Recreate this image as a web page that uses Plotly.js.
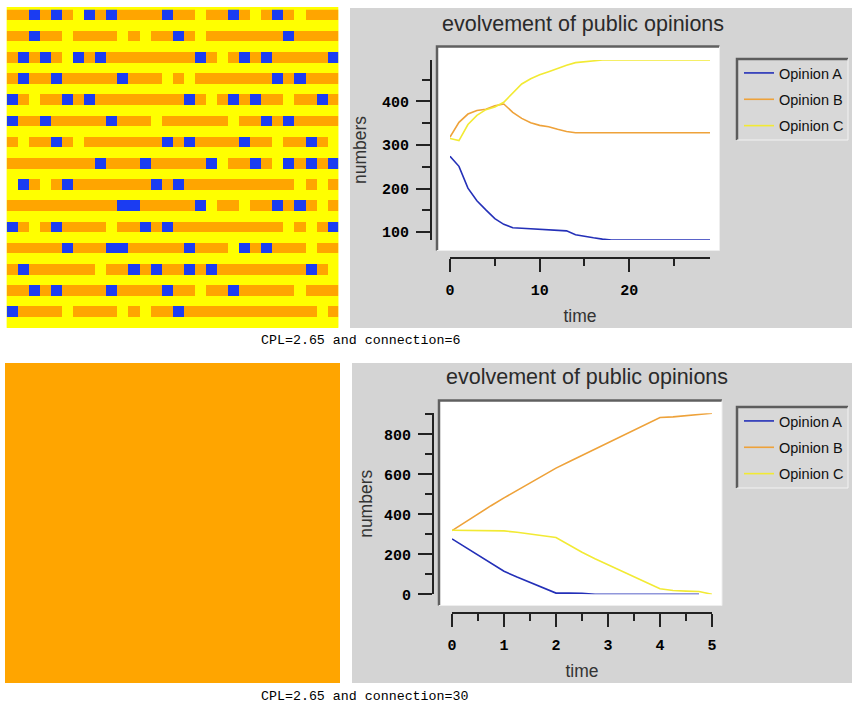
<!DOCTYPE html>
<html><head><meta charset="utf-8">
<script src="https://cdn.plot.ly/plotly-3.0.1.min.js"></script>
<style>html,body{margin:0;padding:0;background:#fff;} #chart{width:852px;height:711px;}</style>
</head><body><div id="chart"></div>
<script>
// ---------------- data ----------------
const seriesNames = ['Opinion A', 'Opinion B', 'Opinion C'];
const chartTitle = 'evolvement of public opinions';
const captionTop = 'CPL=2.65 and connection=6';
const captionBottom = 'CPL=2.65 and connection=30';

// top run (connection = 6)
const timeTop = [0,1,2,3,4,5,6,7,8,9,10,11,12,13,14,15,16,17,18,19,20,21,22,23,24,25,26,27,28,29];
const opinionATop = [274,251,201,172,151,131,118,110,109,108,107,106,105,103,94,90,87,84,82,82,82,82,82,82,82,82,82,82,82,82];
const opinionBTop = [318,352,371,379,382,390,394,375,361,351,345,342,336,331,328,328,328,328,328,328,328,328,328,328,328,328,328,328,328,328];
const opinionCTop = [315,310,347,368,381,387,398,419,440,452,461,468,476,483,489,491,493,495,495,495,495,495,495,495,495,495,495,495,495,495];

// bottom run (connection = 30)
const timeBottom = [0,0.25,0.5,0.75,1,1.25,1.5,1.75,2,2.25,2.5,2.75,3,3.25,3.5,3.75,4,4.25,4.5,4.75,5];
const opinionABottom = [277,236,196,155,115,86,60,33,6,6,5,0,0,0,0,0,0,0,0,0,null];
const opinionBBottom = [318,361,402,443,482,520,558,595,631,663,695,727,758,790,822,853,884,887,893,899,905];
const opinionCBottom = [320,319,318,318,317,310,303,293,284,247,210,178,147,117,88,58,28,19,16,14,0];

// grid states, one string per occupied row: B = Opinion A (blue), O = Opinion B (orange), Y = Opinion C (yellow)
const gridTopBands = [
  'OOBOBOYBOBOOOOBOOYOOBOYOBOYOOO',
  'OOBOOYOOOOYOYOOBOYOOOOOOOBOOOO',
  'OBOBOYBOBOOOOOOOOBOYOBOBOOOOOB',
  'OBOOBOOOOOBOOOYOYOOOOOOOBOBOOO',
  'BOYOOBOBOOOOOOOOBOYOBOBOOYOOBO',
  'BOOBOOOOOBOOOYOOOOOOYOOBOBOOOO',
  'OYOOBOYOOOOOOOBOBOOOOBOOYOOBOY',
  'OOOOOOOOBOOOBOOOOOBYOOBOYBOBOB',
  'YBOYOBOOOOOOOBOBOOOOOOOOOOYOYO',
  'OOOOOOOOOOBBOOOOOBYOOYOOBOBOYO',
  'BOYOBOOOOYOOBOBOOOOOOOOOOYOYOB',
  'OOOOOBOOOBBOOOOOBOOOYBOBOOOYOO',
  'OBOOOOOOYOOBOBOOBOBOOOOOOOOBOY',
  'OOBOBOOOOBOOOOBOOYOOBOOOOOYOOO',
  'BOOOOYOOOOYOYOOBOOOOOOOOOOOOYO'
];
const gridSpacerRow = 'YYYYYYYYYYYYYYYYYYYYYYYYYYYYYY';
const gridBottomState = ['O']; // every cell holds Opinion B

// ---------------- helpers ----------------
const W = 852, H = 711;
const X = px => px / W;
const Y = py => 1 - py / H;
const stateCode = {Y: 0, O: 1, B: 2};
const toZ = rows => rows.map(r => r.split('').map(c => stateCode[c]));
const topRows = [];
gridTopBands.forEach(b => { topRows.push(b); topRows.push(gridSpacerRow); });

const gridScale = [[0,'#ffff00'],[0.333,'#ffff00'],[0.334,'#ffa500'],[0.666,'#ffa500'],[0.667,'#1b3cf2'],[1,'#1b3cf2']];
const lineColors = ['#2430b8', '#eea23a', '#f2ea34'];

const tickFont = {family: 'Liberation Mono, Courier New, monospace', size: 15, color: '#000', weight: 'bold'};
const titleFont = {family: 'Liberation Sans, Arial, sans-serif', size: 17.5, color: '#333'};
const legendFont = {family: 'Liberation Sans, Arial, sans-serif', size: 14.5, color: '#111'};

function axisStyle(extra) {
  return Object.assign({
    showgrid: false, zeroline: false, showline: true, linecolor: '#222', linewidth: 2,
    ticks: 'outside', tickwidth: 2, tickcolor: '#222', tickfont: tickFont,
    fixedrange: true
  }, extra);
}

const minMax = arrs => {
  const v = [].concat(...arrs).filter(d => d !== null);
  return [Math.min(...v), Math.max(...v)];
};

// ---------------- traces ----------------
const traces = [];
[opinionATop, opinionBTop, opinionCTop].forEach((ys, i) => {
  traces.push({type: 'scatter', mode: 'lines', x: timeTop, y: ys, name: seriesNames[i],
    xaxis: 'x', yaxis: 'y', legend: 'legend', legendgroup: 'g' + i,
    line: {color: lineColors[i], width: 1.6}});
});
[opinionABottom, opinionBBottom, opinionCBottom].forEach((ys, i) => {
  traces.push({type: 'scatter', mode: 'lines', x: timeBottom, y: ys, name: seriesNames[i],
    xaxis: 'x2', yaxis: 'y2', legend: 'legend2', legendgroup: 'h' + i,
    line: {color: lineColors[i], width: 1.6}});
});
traces.push({type: 'heatmap', z: toZ(topRows), xaxis: 'x3', yaxis: 'y3', zmin: 0, zmax: 2,
  colorscale: gridScale, showscale: false, hoverinfo: 'skip', showlegend: false});
traces.push({type: 'heatmap', z: toZ(gridBottomState), xaxis: 'x4', yaxis: 'y4', zmin: 0, zmax: 2,
  colorscale: gridScale, showscale: false, hoverinfo: 'skip', showlegend: false});

// ---------------- decoration ----------------
const shapes = [];
function rect(x0, y0, x1, y1, fill) {
  shapes.push({type: 'rect', xref: 'paper', yref: 'paper', x0: X(x0), x1: X(x1), y0: Y(y1), y1: Y(y0),
    fillcolor: fill, line: {width: 0}, layer: 'below'});
}
function inset(x0, y0, x1, y1, dark, light, wd) {
  shapes.push({type: 'path', xref: 'paper', yref: 'paper', layer: 'below',
    path: `M${X(x0)},${Y(y1)} L${X(x0)},${Y(y0)} L${X(x1)},${Y(y0)}`, line: {color: dark, width: wd}});
  shapes.push({type: 'path', xref: 'paper', yref: 'paper', layer: 'below',
    path: `M${X(x1)},${Y(y0)} L${X(x1)},${Y(y1)} L${X(x0)},${Y(y1)}`, line: {color: light, width: 1}});
}
// grid frame (yellow edge)
rect(6.7, 7, 338.3, 328, '#ffff00');
// top panel
rect(350, 8, 852, 328, '#d4d4d4');
rect(437, 47, 719, 250, '#ffffff');
inset(437, 46.5, 719.5, 250.5, '#606060', '#eeeeee', 2.5);
rect(736, 58, 848, 140, '#d8d8d8');
inset(737, 59, 848, 140, '#5c5c5c', '#f2f2f2', 2.5);
// bottom panel
rect(352, 363, 852, 683, '#d4d4d4');
rect(439, 401, 722, 605, '#ffffff');
inset(439, 400.5, 722, 605.5, '#606060', '#eeeeee', 2.5);
rect(736, 406, 848, 488, '#d8d8d8');
inset(737, 407, 848, 488, '#5c5c5c', '#f2f2f2', 2.5);

const annotations = [
  {text: chartTitle, x: X(583), y: Y(24), xanchor: 'center', yanchor: 'middle', xref: 'paper', yref: 'paper', showarrow: false,
   font: {family: 'Liberation Sans, Arial, sans-serif', size: 21.5, color: '#2a2a2a'}},
  {text: chartTitle, x: X(587), y: Y(377), xanchor: 'center', yanchor: 'middle', xref: 'paper', yref: 'paper', showarrow: false,
   font: {family: 'Liberation Sans, Arial, sans-serif', size: 21.5, color: '#2a2a2a'}},
  {text: captionTop, x: X(259), y: Y(340), xanchor: 'left', yanchor: 'middle', xref: 'paper', yref: 'paper', showarrow: false,
   font: {family: 'Liberation Mono, Courier New, monospace', size: 13.3, color: '#000'}},
  {text: captionBottom, x: X(259), y: Y(696), xanchor: 'left', yanchor: 'middle', xref: 'paper', yref: 'paper', showarrow: false,
   font: {family: 'Liberation Mono, Courier New, monospace', size: 13.3, color: '#000'}}
];

const rTopX = minMax([timeTop]), rTopY = minMax([opinionATop, opinionBTop, opinionCTop]);
const rBotX = minMax([timeBottom]), rBotY = minMax([opinionABottom, opinionBBottom, opinionCBottom]);

const layout = {
  width: W, height: H, margin: {l: 0, r: 0, t: 0, b: 0},
  paper_bgcolor: '#ffffff', plot_bgcolor: 'rgba(0,0,0,0)',
  showlegend: true,
  xaxis: axisStyle({domain: [X(450), X(710)], anchor: 'free', position: Y(258), range: rTopX,
    tick0: 0, dtick: 10, ticklen: 13, ticklabelstandoff: 5,
    minor: {ticks: 'outside', ticklen: 7, tickwidth: 2, tickcolor: '#222', dtick: 5, tick0: 0, showgrid: false},
    title: {text: 'time', font: titleFont, standoff: 10}}),
  yaxis: axisStyle({domain: [Y(240), Y(60)], anchor: 'free', position: X(431), range: rTopY,
    tick0: 0, dtick: 100, ticklen: 14, ticklabelstandoff: 4,
    minor: {ticks: 'outside', ticklen: 8, tickwidth: 2, tickcolor: '#222', dtick: 50, tick0: 0, showgrid: false},
    title: {text: 'numbers', font: titleFont, standoff: 10}}),
  xaxis2: axisStyle({domain: [X(452), X(712)], anchor: 'free', position: Y(613), range: rBotX,
    tick0: 0, dtick: 1, ticklen: 13, ticklabelstandoff: 5,
    minor: {ticks: 'outside', ticklen: 7, tickwidth: 2, tickcolor: '#222', dtick: 0.5, tick0: 0, showgrid: false},
    title: {text: 'time', font: titleFont, standoff: 10}}),
  yaxis2: axisStyle({domain: [Y(594.3), Y(413.3)], anchor: 'free', position: X(433), range: rBotY,
    tick0: 0, dtick: 200, ticklen: 14, ticklabelstandoff: 4,
    minor: {ticks: 'outside', ticklen: 7, tickwidth: 2, tickcolor: '#222', dtick: 100, tick0: 0, showgrid: false},
    title: {text: 'numbers', font: titleFont, standoff: 6}}),
  xaxis3: {domain: [X(6.7), X(338.3)], anchor: 'y3', visible: false, fixedrange: true},
  yaxis3: {domain: [Y(327.5), Y(9.5)], anchor: 'x3', visible: false, autorange: 'reversed', fixedrange: true},
  xaxis4: {domain: [X(5), X(340)], anchor: 'y4', visible: false, fixedrange: true},
  yaxis4: {domain: [Y(683), Y(363)], anchor: 'x4', visible: false, fixedrange: true},
  legend: {x: X(739), y: Y(57), xanchor: 'left', yanchor: 'top', bgcolor: 'rgba(0,0,0,0)', borderwidth: 0,
    font: legendFont, itemwidth: 30, tracegroupgap: 4.5, traceorder: 'grouped'},
  legend2: {x: X(739), y: Y(405), xanchor: 'left', yanchor: 'top', bgcolor: 'rgba(0,0,0,0)', borderwidth: 0,
    font: legendFont, itemwidth: 30, tracegroupgap: 4.5, traceorder: 'grouped'},
  shapes: shapes,
  annotations: annotations
};

Plotly.newPlot('chart', traces, layout, {displayModeBar: false, staticPlot: true});
</script>
</body></html>
